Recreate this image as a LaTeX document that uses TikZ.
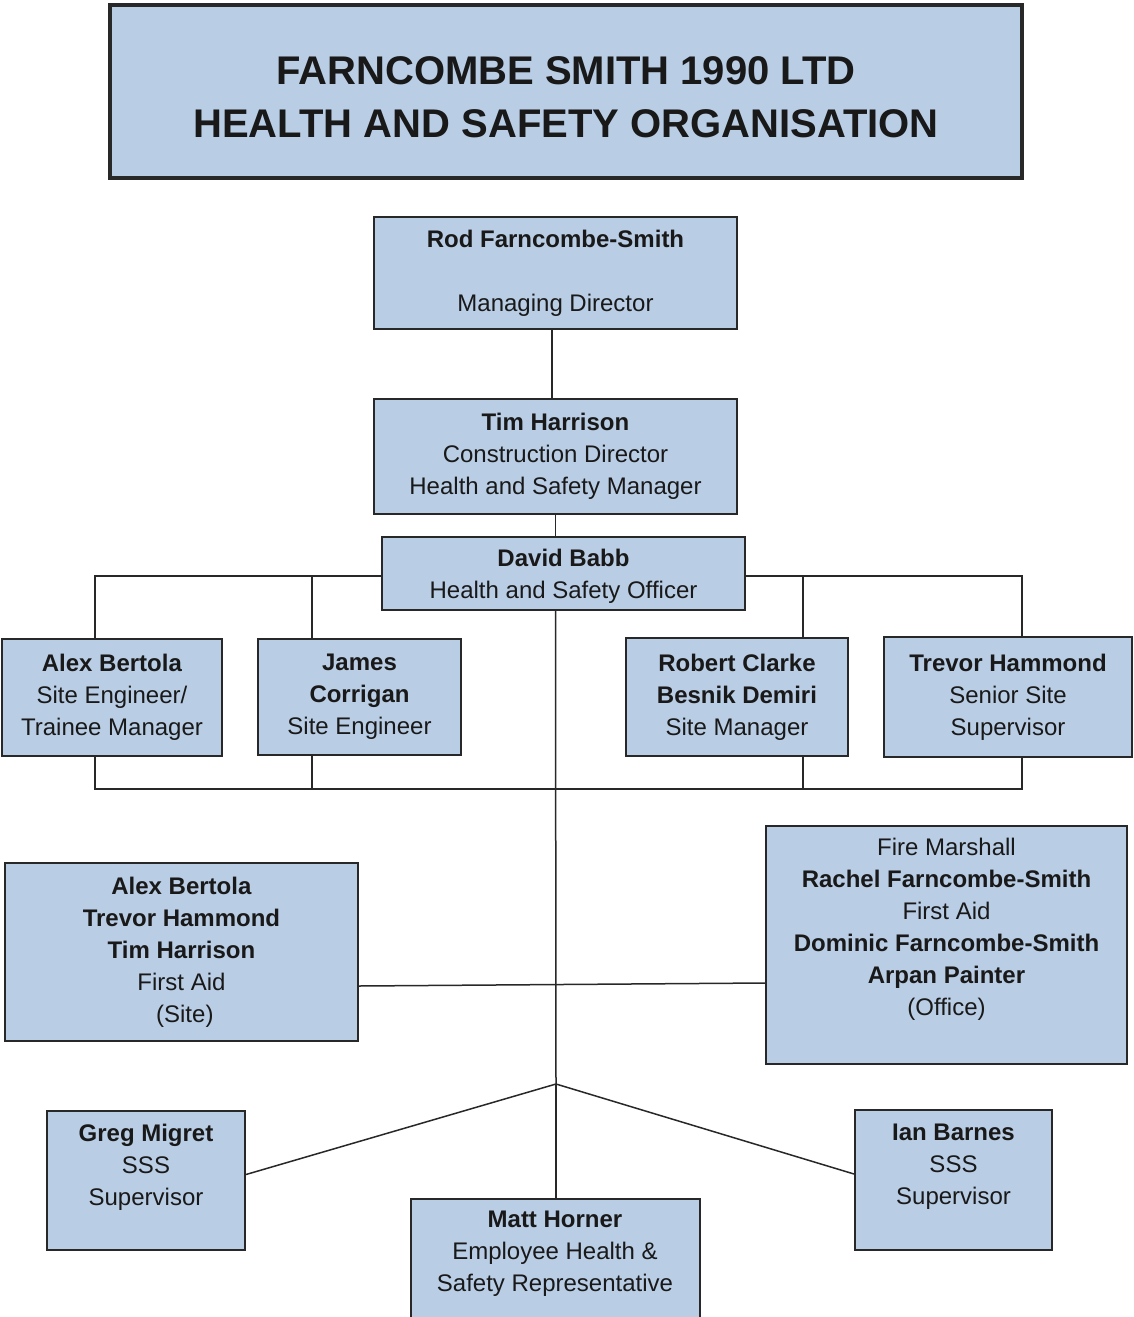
\documentclass[tikz,border=0pt]{standalone}
\usepackage{fontspec}
\setmainfont{Liberation Sans}
\definecolor{boxfill}{RGB}{185,205,229}
\definecolor{edge}{RGB}{40,40,40}
\definecolor{ink}{RGB}{25,25,25}
\begin{document}
\begin{tikzpicture}[x=1pt,y=-1pt,
  box/.style={draw=edge, line width=2pt, fill=boxfill, inner sep=0pt, align=center,
    text=ink, font=\fontsize{24}{32}\selectfont},
  txt/.style={inner sep=0pt, align=center, text=ink, font=\fontsize{24}{32}\selectfont},
  link/.style={draw=edge, line width=1.5pt}]
\useasboundingbox (0,0) rectangle (1133,1317);

% title
\node[box, line width=3.5pt, minimum width=912pt, minimum height=173pt] (title) at (566,91.5) {};
\node[txt, font=\bfseries\fontsize{40}{53}\selectfont] (titlet) at (566,97.5)
  {FARNCOMBE SMITH 1990 LTD\\HEALTH AND SAFETY ORGANISATION};

% top chain
\node[box, minimum width=363pt, minimum height=112pt] (rod) at (555.5,273)
  {\textbf{Rod Farncombe-Smith}\\[32pt]Managing Director};
\node[box, minimum width=363pt, minimum height=115pt] (tim) at (555.5,456.5)
  {\textbf{Tim Harrison}\\Construction Director\\Health and Safety Manager};
\node[box, minimum width=363pt, minimum height=73pt] (david) at (563.5,573) {};
\node[txt] (davidt) at (563.5,576) {\textbf{David Babb}\\Health and Safety Officer};

% second row
\node[box, minimum width=220pt, minimum height=117pt] (alex) at (112,697.5)
  {\textbf{Alex Bertola}\\Site Engineer/\\Trainee Manager};
\node[box, minimum width=203pt, minimum height=116pt] (james) at (359.5,697)
  {\textbf{James}\\\textbf{Corrigan}\\Site Engineer};
\node[box, minimum width=222pt, minimum height=118pt] (robert) at (737,697)
  {\textbf{Robert Clarke}\\\textbf{Besnik Demiri}\\Site Manager};
\node[box, minimum width=248pt, minimum height=120pt] (trevor) at (1008,697)
  {\textbf{Trevor Hammond}\\Senior Site\\Supervisor};

% first aid boxes
\node[box, minimum width=353pt, minimum height=178pt] (fa1) at (181.5,952)
  {\textbf{Alex Bertola}\\\textbf{Trevor Hammond}\\\textbf{Tim Harrison}\\First Aid\\\ (Site)};
\node[box, minimum width=361pt, minimum height=238pt] (fa2) at (946.5,945) {};
\node[txt] (fa2t) at (946.5,929)
  {Fire Marshall\\\textbf{Rachel Farncombe-Smith}\\First Aid\\\textbf{Dominic Farncombe-Smith}\\\textbf{Arpan Painter}\\(Office)};

% bottom row
\node[box, minimum width=198pt, minimum height=139pt] (greg) at (146,1180.5) {};
\node[txt] (gregt) at (146,1167) {\textbf{Greg Migret}\\SSS\\Supervisor};
\node[box, minimum width=197pt, minimum height=140pt] (ian) at (953.5,1180) {};
\node[txt] (iant) at (953.5,1167) {\textbf{Ian Barnes}\\SSS\\Supervisor};
\node[box, minimum width=289pt, minimum height=124pt] (matt) at (555,1261) {};
\node[txt] (mattt) at (555,1254)
  {\textbf{Matt Horner}\\Employee Health \&\\Safety Representative};

% connectors
\coordinate (hub) at (556,1084);
\coordinate (bus) at (556,789);
\draw[link] (rod.south -| 552,0) -- (tim.north -| 552,0);
\draw[link] (tim.south) -- (tim.south |- david.north);
\draw[link] ([yshift=-3pt]david.west) -| ([xshift=-17pt]alex.north);
\draw[link] ([yshift=-3pt]david.west) -| ([xshift=-47.5pt]james.north);
\draw[link] ([yshift=-3pt]david.east) -| ([xshift=66pt]robert.north);
\draw[link] ([yshift=-3pt]david.east) -| ([xshift=14pt]trevor.north);
\draw[link] ([xshift=-17pt]alex.south) |- (bus) -| ([xshift=14pt]trevor.south);
\draw[link] ([xshift=-47.5pt]james.south) -- ++(0,-33pt);
\draw[link] ([xshift=66pt]robert.south) -- ++(0,-33pt);
\draw[link] (tim.south |- david.south) -- (hub);
\draw[link] ([yshift=-34pt]fa1.east) -- ([yshift=-38pt]fa2.west);
\draw[link] (hub) -- (hub |- matt.north);
\draw[link] (hub) -- ([yshift=6pt]greg.east);
\draw[link] (hub) -- ([yshift=6pt]ian.west);
\end{tikzpicture}
\end{document}
